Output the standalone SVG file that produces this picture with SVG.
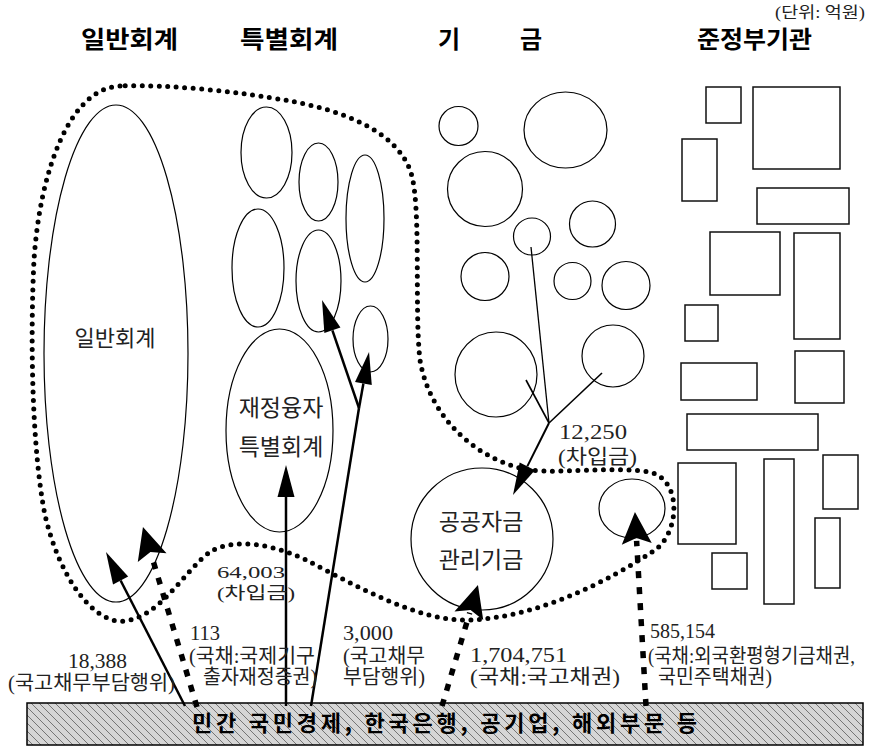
<svg xmlns="http://www.w3.org/2000/svg" width="869" height="747" viewBox="0 0 869 747">
<style>
.hd{font-family:"Noto Sans CJK KR","Noto Sans",sans-serif;font-weight:700;font-size:24px;fill:#000}
.in{font-family:"Noto Sans CJK KR","Noto Sans",sans-serif;font-size:22px;fill:#222}
.lb{font-family:"Liberation Serif","Noto Sans CJK KR",serif;font-size:20px;fill:#222}
.sh{fill:none;stroke:#000;stroke-width:1.2}
.bx{fill:none;stroke:#111;stroke-width:1.5}
.sol{fill:none;stroke:#000;stroke-width:2.5}
.thin{fill:none;stroke:#000;stroke-width:1.6}
.bd{fill:none;stroke:#000;stroke-width:5.5;stroke-dasharray:7 9}
.dot{fill:none;stroke:#000;stroke-width:5;stroke-dasharray:0 8.5;stroke-linecap:round}
</style>
<defs>
<marker id="ah" markerUnits="userSpaceOnUse" markerWidth="40" markerHeight="40" refX="0" refY="0" orient="auto" overflow="visible">
<path d="M0,-8.5 L32,0 L0,8.5 z" fill="#000"/>
</marker>
<marker id="ab" markerUnits="userSpaceOnUse" markerWidth="40" markerHeight="40" refX="0" refY="0" orient="auto" overflow="visible">
<path d="M-3,-15 L29,0 L-3,15 L3,0 z" fill="#000"/>
</marker>
<pattern id="hatch" patternUnits="userSpaceOnUse" width="8" height="8">
<rect width="8" height="8" fill="#d6d6d6"/>
<path d="M0,0 L8,8 M-2,6 L2,10 M6,-2 L10,2" stroke="#6a6a6a" stroke-width="0.9"/>
</pattern>
</defs>

<text x="775" y="18" class="lb" style="font-size:16px" textLength="90" lengthAdjust="spacingAndGlyphs">(단위: 억원)</text>

<g id="headers">
<text x="81" y="48" class="hd" textLength="97" lengthAdjust="spacingAndGlyphs">일반회계</text>
<text x="240" y="48" class="hd" textLength="98" lengthAdjust="spacingAndGlyphs">특별회계</text>
<text x="438" y="48" class="hd">기</text>
<text x="520" y="48" class="hd">금</text>
<text x="697" y="48" class="hd" textLength="115" lengthAdjust="spacingAndGlyphs">준정부기관</text>
</g>

<path id="boundary" class="dot" d="M120,86 C70,88 40,170 34,260 C30,340 32,450 45,515 C60,580 95,625 125,621 C160,617 185,570 210,552 C235,536 280,546 310,562 C360,588 420,622 470,620 C540,617 610,580 655,550 C680,532 682,480 650,472 C610,466 560,474 530,470 C480,462 430,420 420,360 C414,310 422,200 410,170 C395,130 340,110 290,101 C240,92 170,84 120,86 Z"/>

<g id="general">
<ellipse class="sh" cx="116" cy="353.5" rx="72" ry="248.5"/>
<text x="115" y="346" class="in" text-anchor="middle">일반회계</text>
</g>

<g id="special">
<ellipse class="sh" cx="266.5" cy="152.5" rx="25.5" ry="45.5"/>
<ellipse class="sh" cx="318.5" cy="182" rx="19.5" ry="39"/>
<ellipse class="sh" cx="365" cy="218.5" rx="19" ry="63.5"/>
<ellipse class="sh" cx="258" cy="268" rx="26" ry="59"/>
<ellipse class="sh" cx="318.5" cy="281" rx="22.5" ry="51"/>
<ellipse class="sh" cx="370.5" cy="339" rx="17.5" ry="33"/>
</g>

<g id="fiscal-loan">
<ellipse class="sh" cx="279.5" cy="430.5" rx="53.5" ry="101.5"/>
<text x="281" y="416" class="in" style="font-size:23px" text-anchor="middle">재정융자</text>
<text x="281" y="455" class="in" style="font-size:23px" text-anchor="middle">특별회계</text>
</g>

<g id="funds">
<circle class="sh" cx="458.5" cy="126" r="19.5"/>
<ellipse class="sh" cx="565.5" cy="130" rx="41.5" ry="38"/>
<circle class="sh" cx="485" cy="189" r="37.5"/>
<circle class="sh" cx="532" cy="236.5" r="18.5"/>
<circle class="sh" cx="592.5" cy="224" r="23"/>
<circle class="sh" cx="485" cy="276.5" r="24"/>
<circle class="sh" cx="572.5" cy="281" r="18.5"/>
<circle class="sh" cx="626" cy="285.5" r="24"/>
<ellipse class="sh" cx="496" cy="374.5" rx="41" ry="42.5"/>
<circle class="sh" cx="613" cy="356" r="31"/>
</g>

<g id="public-fund">
<circle class="sh" cx="482" cy="539" r="71"/>
<text x="481" y="530" class="in" style="font-size:23px" text-anchor="middle">공공자금</text>
<text x="481" y="568" class="in" style="font-size:23px" text-anchor="middle">관리기금</text>
</g>

<g id="small-fund">
<ellipse class="sh" cx="632" cy="508.5" rx="33" ry="29.5"/>
</g>

<g id="quasi-gov">
<rect class="bx" x="706" y="87" width="35" height="36"/>
<rect class="bx" x="753" y="87" width="87" height="82"/>
<rect class="bx" x="682" y="139" width="35" height="62"/>
<rect class="bx" x="757" y="188" width="92" height="36"/>
<rect class="bx" x="710" y="232" width="70" height="63"/>
<rect class="bx" x="794" y="233" width="46" height="106"/>
<rect class="bx" x="685" y="305" width="33" height="36"/>
<rect class="bx" x="681" y="363" width="76" height="37"/>
<rect class="bx" x="795" y="351" width="49" height="52"/>
<rect class="bx" x="687" y="414" width="131" height="36"/>
<rect class="bx" x="678" y="463" width="58" height="81"/>
<rect class="bx" x="764" y="459" width="30" height="145"/>
<rect class="bx" x="823" y="455" width="35" height="54"/>
<rect class="bx" x="815" y="518" width="25" height="70"/>
<rect class="bx" x="712" y="553" width="35" height="36"/>
</g>

<g id="private-sector">
<rect x="27" y="703" width="836" height="42" fill="url(#hatch)" stroke="#000" stroke-width="1.5"/>
<text x="192" y="731" class="hd" style="font-size:22px" textLength="505" lengthAdjust="spacing">민간 국민경제, 한국은행, 공기업, 해외부문 등</text>
</g>

<g id="connectors">
<line class="sol" x1="185" y1="706" x2="120.6" y2="580.5" marker-end="url(#ah)"/>
<line class="bd" x1="197" y1="707" x2="151.3" y2="554.8" marker-end="url(#ab)"/>
<line class="sol" x1="286" y1="706" x2="286" y2="497" marker-end="url(#ah)"/>
<line class="sol" x1="311" y1="706" x2="359" y2="408"/>
<line class="sol" x1="359" y1="408" x2="332.4" y2="330.3" marker-end="url(#ah)"/>
<line class="sol" x1="359" y1="408" x2="363.4" y2="383.5" marker-end="url(#ah)"/>
<line class="bd" x1="442" y1="706" x2="469.7" y2="612.8" marker-end="url(#ab)"/>
<line class="bd" x1="646" y1="706" x2="636.6" y2="540.9" marker-end="url(#ab)"/>
<line class="thin" style="stroke-width:1.3" x1="531" y1="247" x2="549" y2="423"/>
<line class="thin" x1="526" y1="380" x2="549" y2="423"/>
<line class="thin" x1="602" y1="373" x2="549" y2="423"/>
<line class="sol" style="stroke-width:2" x1="549" y1="423" x2="527.3" y2="466.4" marker-end="url(#ah)"/>
</g>

<g id="labels">
<text x="68" y="668" class="lb" textLength="59" lengthAdjust="spacingAndGlyphs">18,388</text>
<text x="8" y="690" class="lb" textLength="167" lengthAdjust="spacingAndGlyphs">(국고채무부담행위)</text>
<text x="190" y="640" class="lb" textLength="30" lengthAdjust="spacingAndGlyphs">113</text>
<text x="189" y="663" class="lb" textLength="126" lengthAdjust="spacingAndGlyphs">(국채:국제기구</text>
<text x="203" y="684" class="lb" textLength="114" lengthAdjust="spacingAndGlyphs">출자재정증권)</text>
<text x="343" y="640" class="lb" textLength="50" lengthAdjust="spacingAndGlyphs">3,000</text>
<text x="343" y="663" class="lb" textLength="82" lengthAdjust="spacingAndGlyphs">(국고채무</text>
<text x="343" y="684" class="lb" textLength="82" lengthAdjust="spacingAndGlyphs">부담행위)</text>
<text x="470" y="662" class="lb" textLength="97" lengthAdjust="spacingAndGlyphs">1,704,751</text>
<text x="470" y="684" class="lb" textLength="150" lengthAdjust="spacingAndGlyphs">(국채:국고채권)</text>
<text x="650" y="638" class="lb" textLength="65" lengthAdjust="spacingAndGlyphs">585,154</text>
<text x="648" y="663" class="lb" textLength="207" lengthAdjust="spacingAndGlyphs">(국채:외국환평형기금채권,</text>
<text x="658" y="684" class="lb" textLength="114" lengthAdjust="spacingAndGlyphs">국민주택채권)</text>
<text x="217" y="578" class="lb" style="font-size:17px" textLength="68" lengthAdjust="spacingAndGlyphs">64,003</text>
<text x="217" y="599" class="lb" style="font-size:17px" textLength="78" lengthAdjust="spacingAndGlyphs">(차입금)</text>
<text x="559" y="439" class="lb" textLength="68" lengthAdjust="spacingAndGlyphs">12,250</text>
<text x="558" y="464" class="lb" textLength="79" lengthAdjust="spacingAndGlyphs">(차입금)</text>
</g>
</svg>
